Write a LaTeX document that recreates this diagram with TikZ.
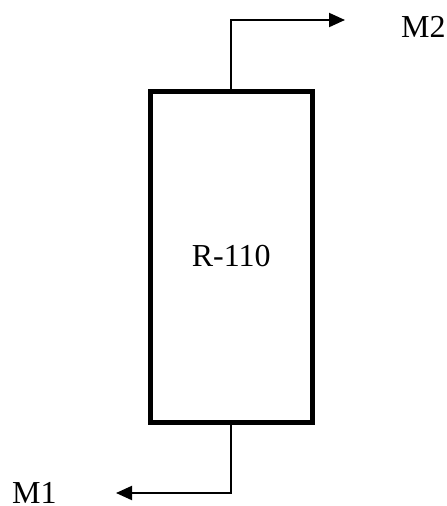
\documentclass[tikz,border=0pt]{standalone}
\usepackage{fontspec}
\setmainfont{Liberation Serif}
\usetikzlibrary{arrows.meta}
\begin{document}
\begin{tikzpicture}[x=1pt, y=-1pt,
    reactor/.style={draw, line width=5pt, minimum width=162.5pt, minimum height=331pt, inner sep=0pt, outer sep=0pt},
    stream/.style={line width=2pt, -{Triangle[length=16pt,width=14pt]}},
    label/.style={font=\fontsize{32}{38}\selectfont, inner sep=0pt}]
    % Frame
    \useasboundingbox (0,0) rectangle (447,506);
    % Reactor
    \node [reactor, label] (R110) at (231.25,256.5) {R-110};
    % Coordinate
    \coordinate (M2out) at (345,20);
    \coordinate (M1out) at (116,493);
    % Streams
    \draw [stream] (R110.north) |- (M2out); % top
    \draw [stream] (R110.south) |- (M1out); % bottom
    % Writing space
    \node [label, anchor=base west] (M2) at (401,37) {M2};
    \node [label, anchor=base west] (M1) at (12,503.5) {M1};
\end{tikzpicture}
\end{document}
